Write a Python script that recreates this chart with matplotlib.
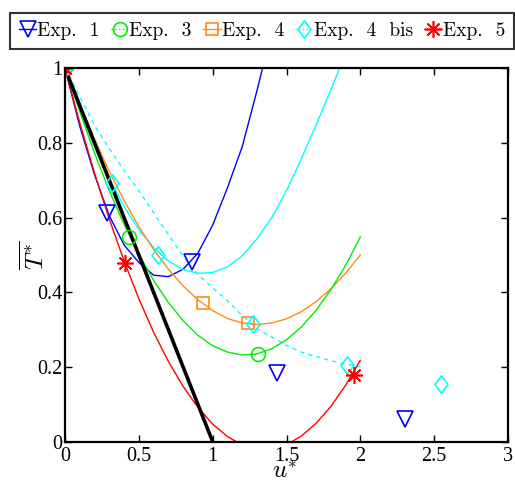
import numpy as np
import matplotlib
matplotlib.use("Agg")
import matplotlib.pyplot as plt
from matplotlib.lines import Line2D
from matplotlib.path import Path

plt.rcParams['mathtext.fontset'] = 'cm'
plt.rcParams['axes.formatter.use_mathtext'] = True

# ---- data ----
x_grid = [0.0, 0.1, 0.2, 0.3, 0.4, 0.5, 0.6, 0.7, 0.8, 0.9, 1.0,
          1.1, 1.2, 1.3, 1.4, 1.5, 1.6, 1.7, 1.8, 1.9, 2.0]

fit_exp1_x = [0.0, 0.1, 0.2, 0.3, 0.4, 0.5, 0.6, 0.7, 0.8, 0.9, 1.0, 1.1, 1.2, 1.3, 1.4]
fit_exp1_y = [1.0, 0.845, 0.715, 0.605, 0.527, 0.48, 0.446, 0.442, 0.462, 0.505, 0.58,
              0.68, 0.79, 0.94, 1.10]

fit_exp3_y = [1.0, 0.884, 0.773, 0.672, 0.582, 0.502, 0.432, 0.373, 0.324, 0.285, 0.257,
              0.240, 0.232, 0.235, 0.249, 0.273, 0.307, 0.352, 0.407, 0.472, 0.548]

fit_exp4_y = [1.0, 0.904, 0.810, 0.724, 0.646, 0.576, 0.515, 0.462, 0.417, 0.380, 0.351,
              0.330, 0.318, 0.314, 0.318, 0.329, 0.348, 0.375, 0.409, 0.451, 0.500]

fit_exp4bis_x = [0.0, 0.1, 0.2, 0.3, 0.4, 0.5, 0.6, 0.7, 0.8, 0.9, 1.0,
                 1.1, 1.2, 1.3, 1.4, 1.5, 1.6, 1.7, 1.8, 1.9]
fit_exp4bis_y = [1.0, 0.891, 0.791, 0.704, 0.630, 0.568, 0.520, 0.484, 0.461, 0.451, 0.453,
                 0.468, 0.498, 0.543, 0.60, 0.672, 0.757, 0.848, 0.942, 1.04]

dash_exp4bis_y = [1.0, 0.924, 0.847, 0.785, 0.727, 0.672, 0.613, 0.555, 0.497, 0.448, 0.412,
                  0.378, 0.338, 0.303, 0.280, 0.258, 0.240, 0.228, 0.217, 0.208, 0.201]

fit_exp5_y = [1.0, 0.854, 0.719, 0.596, 0.484, 0.383, 0.293, 0.215, 0.148, 0.092, 0.047,
              0.014, -0.009, -0.020, -0.019, -0.008, 0.015, 0.049, 0.094, 0.151, 0.218]

ref_x = [0.0, 1.0]
ref_y = [1.0, 0.0]

exp1_x = [0.0, 0.282, 0.862, 1.437, 2.302]
exp1_y = [1.0, 0.613, 0.481, 0.184, 0.061]
exp3_x = [0.0, 0.433, 1.309]
exp3_y = [1.0, 0.547, 0.235]
exp4_x = [0.0, 0.932, 1.241]
exp4_y = [1.0, 0.372, 0.317]
exp4bis_x = [0.0, 0.316, 0.632, 1.271, 1.907, 2.543]
exp4bis_y = [1.0, 0.692, 0.500, 0.315, 0.205, 0.154]
exp5_x = [0.0, 0.406, 1.957]
exp5_y = [1.0, 0.478, 0.179]

labels = ['Exp.  1', 'Exp.  3', 'Exp.  4', 'Exp.  4  bis', 'Exp.  5']
x_ticks = [0, 0.5, 1, 1.5, 2, 2.5, 3]
x_ticklabels = ['0', '0.5', '1', '1.5', '2', '2.5', '3']
y_ticks = [0, 0.2, 0.4, 0.6, 0.8, 1]
y_ticklabels = ['0', '0.2', '0.4', '0.6', '0.8', '1']

# ---- styles ----
c_blue = '#0000ff'
c_green = '#00ee00'
c_orange = '#ff8c1a'
c_cyan = '#00ffff'
c_red = '#ff0000'

diamond = Path([(0, 1), (0.75, 0), (0, -1), (-0.75, 0), (0, 1)],
               [Path.MOVETO, Path.LINETO, Path.LINETO, Path.LINETO, Path.CLOSEPOLY])
star = (8, 2, 0)

fig = plt.figure(figsize=(5.15, 4.80), dpi=100)
ax = fig.add_axes([65 / 515, 1 - 441.7 / 480, (508 - 65) / 515, (441.7 - 68.3) / 480])

lw = 1.0
ax.plot(fit_exp1_x, fit_exp1_y, color=c_blue, lw=lw)
ax.plot(fit_exp4bis_x, fit_exp4bis_y, color=c_cyan, lw=lw)
ax.plot(x_grid, dash_exp4bis_y, color=c_cyan, lw=lw, ls=(0, (3, 3)))
ax.plot(x_grid, fit_exp4_y, color=c_orange, lw=lw)
ax.plot(x_grid, fit_exp3_y, color=c_green, lw=lw)
ax.plot(x_grid, fit_exp5_y, color=c_red, lw=lw)
ax.plot(ref_x, ref_y, color='black', lw=2.6)

ms = 11
ax.plot(exp1_x, exp1_y, ls='none', marker='v', ms=ms, mfc='none', mec=c_blue, mew=1.2)
ax.plot(exp3_x, exp3_y, ls='none', marker='o', ms=10, mfc='none', mec=c_green, mew=1.2)
ax.plot(exp4_x, exp4_y, ls='none', marker='s', ms=9, mfc='none', mec=c_orange, mew=1.2)
ax.plot(exp4bis_x, exp4bis_y, ls='none', marker=diamond, ms=12.5, mfc='none', mec=c_cyan, mew=1.2)
ax.plot(exp5_x, exp5_y, ls='none', marker=star, ms=12, mfc='none', mec=c_red, mew=1.2)

ax.set_xlim(0, 3)
ax.set_ylim(0, 1)
ax.set_xticks(x_ticks)
ax.set_xticklabels(x_ticklabels)
ax.set_yticks(y_ticks)
ax.set_yticklabels(y_ticklabels)
ax.tick_params(direction='in', length=5, width=1, top=True, right=True,
               labelsize=14.5)
ax.tick_params(axis='x', pad=4)
ax.tick_params(axis='y', pad=2)
for lab in ax.get_xticklabels() + ax.get_yticklabels():
    lab.set_fontfamily('Liberation Serif')
for sp in ax.spines.values():
    sp.set_linewidth(1.6)

ax.set_xlabel(r'$u^{*}$', fontsize=18)
ax.xaxis.set_label_coords(0.495, -0.045)
ax.set_ylabel(r'$\overline{T^{*}}$', fontsize=18)
ax.yaxis.set_label_coords(-0.036, 0.5)

handles = [
    Line2D([], [], color=c_blue, marker='v', ms=ms, mfc='none', mec=c_blue, mew=1.2, lw=1),
    Line2D([], [], color=c_green, marker='o', ms=10, mfc='none', mec=c_green, mew=1.2, lw=1, ls=':'),
    Line2D([], [], color=c_orange, marker='s', ms=9, mfc='none', mec=c_orange, mew=1.2, lw=1),
    Line2D([], [], color=c_cyan, marker=diamond, ms=12.5, mfc='none', mec=c_cyan, mew=1.2, lw=1, ls=':'),
    Line2D([], [], color=c_red, marker=star, ms=12, mfc='none', mec=c_red, mew=1.2, lw=1),
]
leg = fig.legend(handles, labels, loc='upper left', bbox_to_anchor=(10 / 515, 1 - 13 / 480),
                 ncol=5, handlelength=0.9, handletextpad=0.05, columnspacing=0.58,
                 borderpad=0.45, borderaxespad=0, frameon=True, fancybox=False,
                 prop={'family': 'cmr10', 'size': 14})
leg.get_frame().set_edgecolor('black')
leg.get_frame().set_linewidth(1.5)

fig.savefig('out.png', dpi=100)
